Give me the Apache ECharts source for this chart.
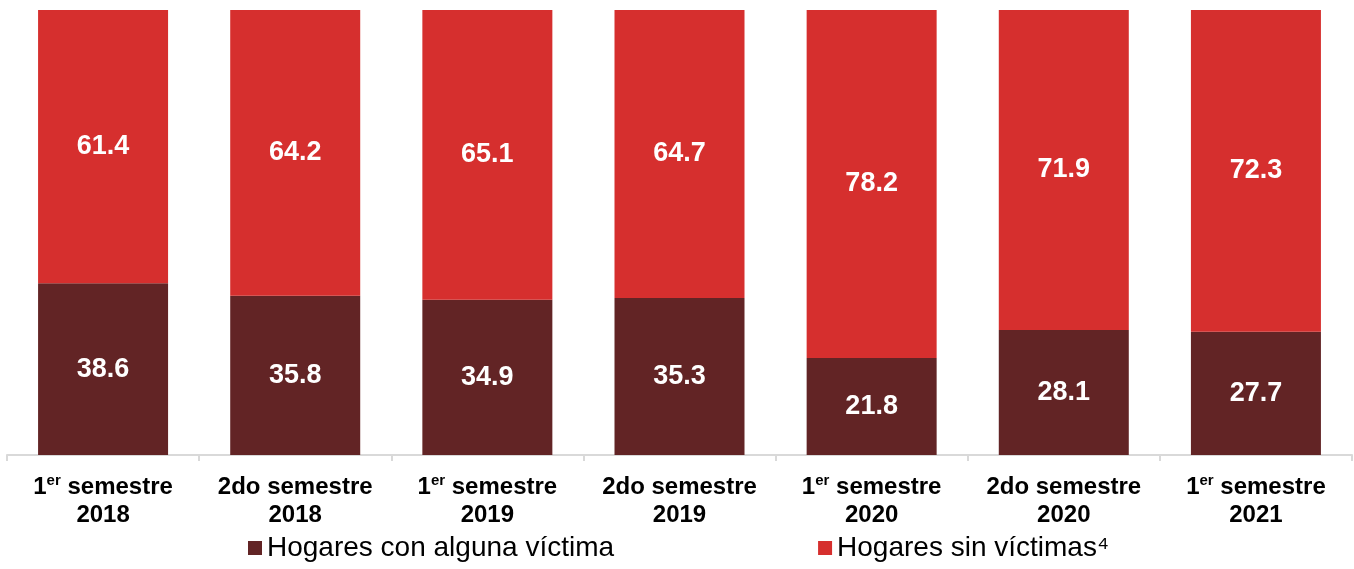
<!DOCTYPE html>
<html>
<head>
<meta charset="utf-8">
<script src="https://cdn.jsdelivr.net/npm/echarts@6/dist/echarts.min.js"></script>
<style>
	html, body { margin: 0; padding: 0; background: #fff; }
	#main { width: 1354px; height: 569px; }
</style>
</head>
<body>
<div id="main"></div>
<script>
// datos
const categorias = ['1er semestre\n2018', '2do semestre\n2018', '1er semestre\n2019', '2do semestre\n2019', '1er semestre\n2020', '2do semestre\n2020', '1er semestre\n2021']
const conVictima = [38.6, 35.8, 34.9, 35.3, 21.8, 28.1, 27.7]
const sinVictimas = [61.4, 64.2, 65.1, 64.7, 78.2, 71.9, 72.3]
const nombres = ['Hogares con alguna víctima', 'Hogares sin víctimas⁴']

const colorOscuro = '#622425'
const colorRojo = '#D62F2E'

const myChart = echarts.init(document.getElementById('main'))

const etiqueta = {
	show: true,
	color: '#fff',
	fontFamily: 'Liberation Sans, Arial',
	fontWeight: 'bold',
	fontSize: 27
}

const option = {
	animation: false,
	grid: {
		left: 7,
		right: 2,
		top: 10,
		bottom: 114
	},
	legend: {
		data: nombres,
		left: 243,
		bottom: 2,
		itemWidth: 14,
		itemHeight: 14,
		itemGap: 204,
		icon: 'rect',
		textStyle: {
			fontFamily: 'Liberation Sans, Arial',
			fontSize: 28,
			color: '#000'
		}
	},
	xAxis: {
		type: 'category',
		data: categorias,
		axisLine: { lineStyle: { color: '#d9d9d9', width: 2 } },
		axisTick: { show: true, length: 6, lineStyle: { color: '#d9d9d9', width: 2 } },
		axisLabel: {
			interval: 0,
			margin: 18,
			lineHeight: 28,
			color: '#000',
			fontFamily: 'Liberation Sans, Arial',
			fontWeight: 'bold',
			fontSize: 24,
			formatter: (v) => v.replace('1er', '1{sup|er}'),
			rich: {
				sup: {
					fontSize: 15,
					fontWeight: 'bold',
					fontFamily: 'Liberation Sans, Arial',
					color: '#000',
					verticalAlign: 'top',
					lineHeight: 28,
					padding: [0, 0, 8, 0]
				}
			}
		}
	},
	yAxis: {
		type: 'value',
		min: 0,
		max: 100,
		show: false,
		splitLine: { show: false }
	},
	series: [
		{
			name: nombres[0],
			type: 'bar',
			stack: 'total',
			barWidth: 130,
			data: conVictima,
			itemStyle: { color: colorOscuro },
			label: etiqueta
		},
		{
			name: nombres[1],
			type: 'bar',
			stack: 'total',
			barWidth: 130,
			data: sinVictimas,
			itemStyle: { color: colorRojo },
			label: etiqueta
		}
	]
}

myChart.setOption(option)
</script>
</body>
</html>
